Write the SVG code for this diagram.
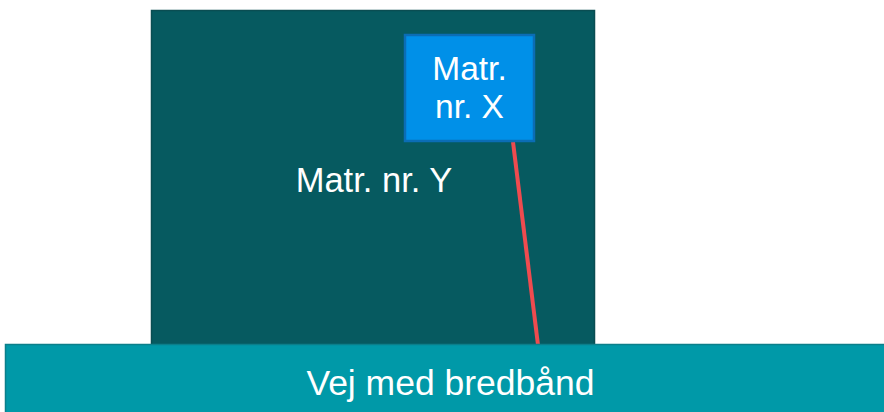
<svg xmlns="http://www.w3.org/2000/svg" width="884" height="412" viewBox="0 0 884 412">
<style>
.t{font-family:"Liberation Sans",Arial,sans-serif;fill:#ffffff;text-anchor:middle;}
</style>
<rect width="884" height="412" fill="#ffffff"/>
<g id="plot-y">
<rect x="151.5" y="10.5" width="443" height="336" fill="#065a60" stroke="#0a4d52" stroke-width="1.5"/>
<text class="t" x="374" y="192" font-size="34.5">Matr. nr. Y</text>
</g>
<g id="connectors">
<line x1="513" y1="142" x2="538" y2="345" stroke="#ef4b4f" stroke-width="4"/>
</g>
<g id="plot-x">
<rect x="405" y="35" width="129" height="106" fill="#0090e8" stroke="#0b6db5" stroke-width="2.5"/>
<text class="t" x="469.5" y="80" font-size="33.5">Matr.</text>
<text class="t" x="469.5" y="118" font-size="33.5">nr. X</text>
</g>
<g id="road">
<rect x="5.5" y="344.5" width="884" height="70" fill="#0099a8" stroke="#0b7f8a" stroke-width="1.5"/>
<text class="t" x="450.5" y="395" font-size="35.5">Vej med bredbånd</text>
</g>
</svg>
